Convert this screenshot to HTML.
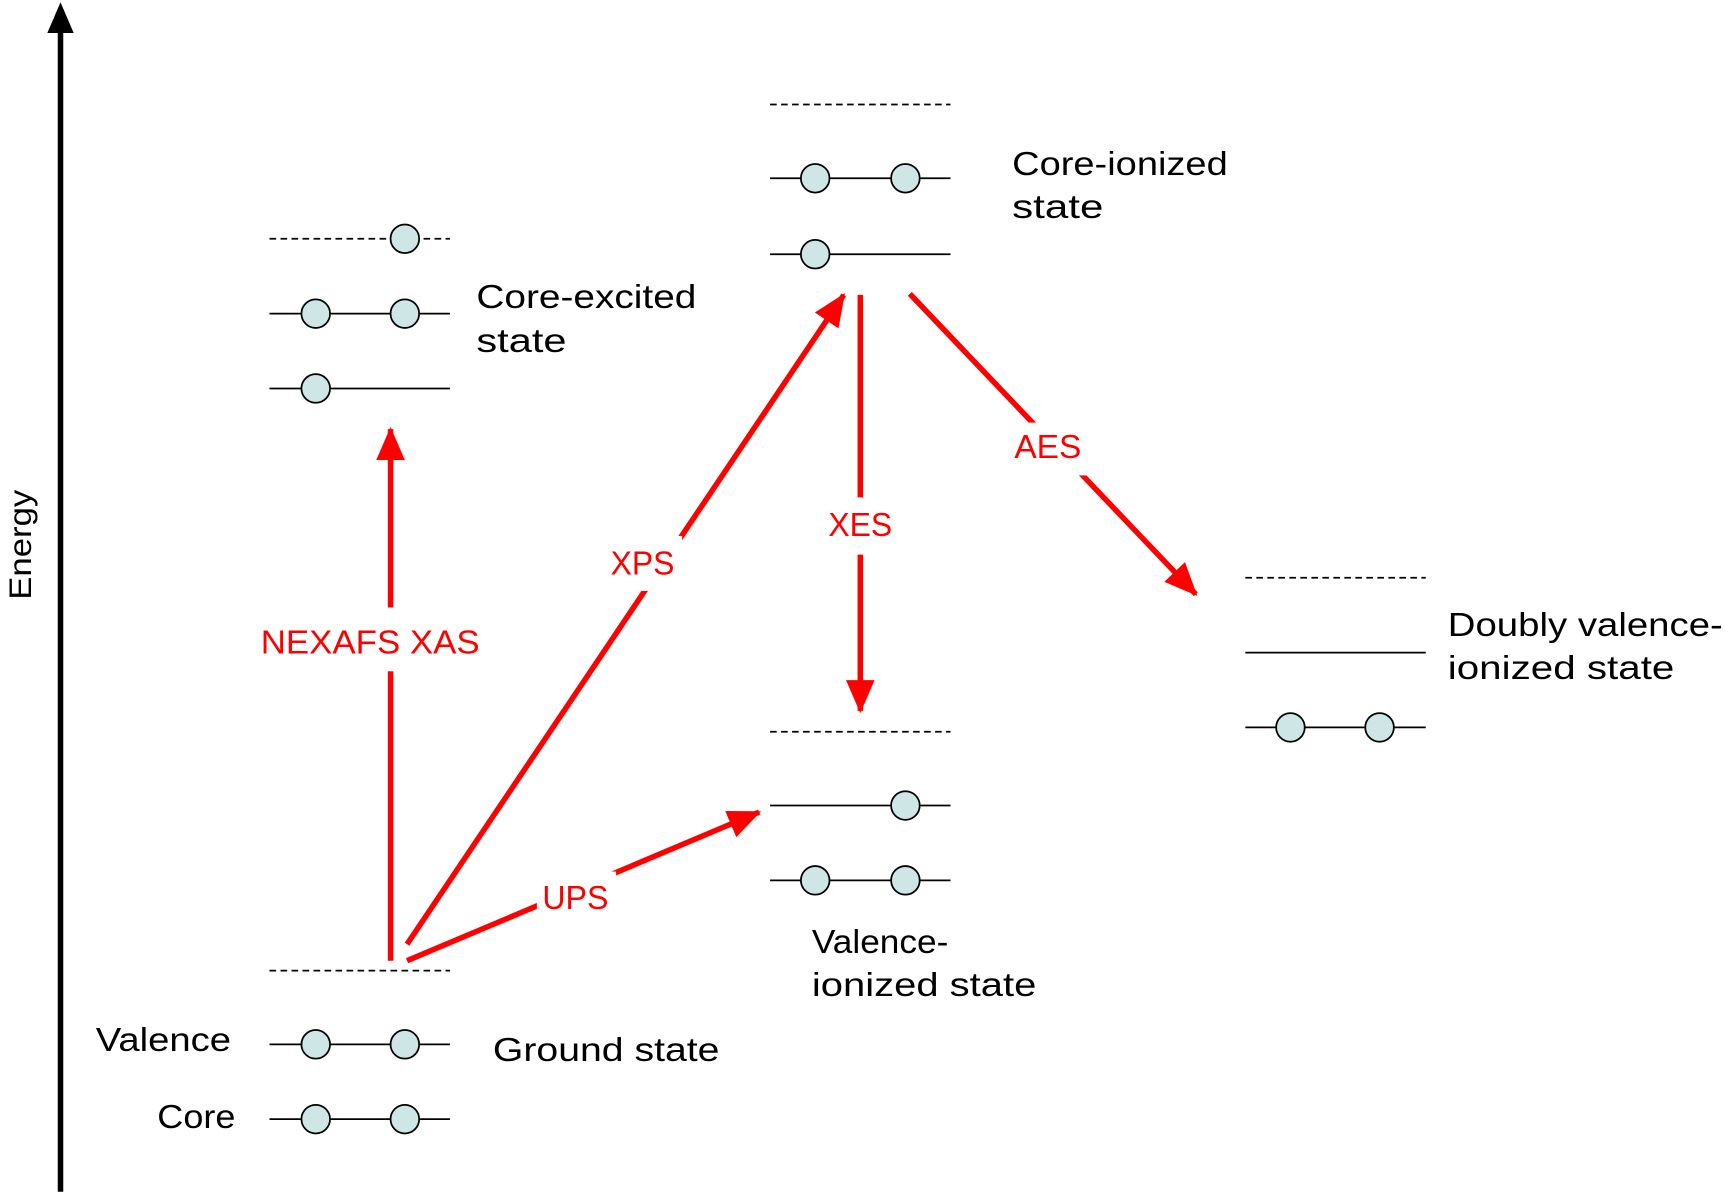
<!DOCTYPE html>
<html><head><meta charset="utf-8"><style>html,body{margin:0;padding:0;background:#fff}svg{display:block}</style></head>
<body>
<svg width="1725" height="1194" viewBox="0 0 1568 1085" preserveAspectRatio="none" xmlns="http://www.w3.org/2000/svg" font-family="Liberation Sans, sans-serif">
<defs>
<marker id="ar" markerUnits="userSpaceOnUse" markerWidth="30" markerHeight="26" refX="28" refY="13" orient="auto"><path d="M0,0 L30,13 L0,26 Z" fill="#ff0000"/></marker>
</defs>
<line x1="55" y1="1083" x2="55" y2="25" stroke="#000" stroke-width="5"/>
<path d="M43,30 L55,2 L67,30 Z" fill="#000"/>
<text transform="translate(28,545) rotate(-90)" font-size="29" textLength="100" lengthAdjust="spacingAndGlyphs">Energy</text>
<g stroke="#000" stroke-width="1.6" fill="none">
<line x1="245" y1="882" x2="409" y2="882" stroke-dasharray="6,4"/>
<line x1="245" y1="949" x2="409" y2="949"/>
<line x1="245" y1="1017" x2="409" y2="1017"/>
<line x1="245" y1="217" x2="409" y2="217" stroke-dasharray="6,4"/>
<line x1="245" y1="285" x2="409" y2="285"/>
<line x1="245" y1="353" x2="409" y2="353"/>
<line x1="700" y1="95" x2="864" y2="95" stroke-dasharray="6,4"/>
<line x1="700" y1="162" x2="864" y2="162"/>
<line x1="700" y1="231" x2="864" y2="231"/>
<line x1="700" y1="665" x2="864" y2="665" stroke-dasharray="6,4"/>
<line x1="700" y1="732" x2="864" y2="732"/>
<line x1="700" y1="800" x2="864" y2="800"/>
<line x1="1132" y1="525" x2="1296" y2="525" stroke-dasharray="6,4"/>
<line x1="1132" y1="593" x2="1296" y2="593"/>
<line x1="1132" y1="661" x2="1296" y2="661"/>
</g>
<g fill="#cfe6e6" stroke="#000" stroke-width="1.6">
<circle cx="287" cy="949" r="13"/><circle cx="368" cy="949" r="13"/>
<circle cx="287" cy="1017" r="13"/><circle cx="368" cy="1017" r="13"/>
<circle cx="368" cy="217" r="13"/>
<circle cx="287" cy="285" r="13"/><circle cx="368" cy="285" r="13"/>
<circle cx="287" cy="353" r="13"/>
<circle cx="741" cy="162" r="13"/><circle cx="823" cy="162" r="13"/>
<circle cx="741" cy="231" r="13"/>
<circle cx="823" cy="732" r="13"/>
<circle cx="741" cy="800" r="13"/><circle cx="823" cy="800" r="13"/>
<circle cx="1173" cy="661" r="13"/><circle cx="1254" cy="661" r="13"/>
</g>
<g stroke="#ff0000" stroke-width="5" fill="none">
<line x1="355" y1="873" x2="355" y2="390" marker-end="url(#ar)"/>
<line x1="370" y1="858" x2="767" y2="268" marker-end="url(#ar)"/>
<line x1="370" y1="873" x2="690" y2="738" marker-end="url(#ar)"/>
<line x1="782" y1="268" x2="782" y2="646" marker-end="url(#ar)"/>
<line x1="827" y1="267" x2="1087" y2="540" marker-end="url(#ar)"/>
</g>
<g fill="#fff">
<rect x="232" y="552" width="212" height="58"/>
<rect x="550" y="487" width="70" height="50"/>
<rect x="488" y="792" width="72" height="48"/>
<rect x="748" y="452" width="68" height="52"/>
<rect x="916" y="384" width="72" height="48"/>
</g>
<g fill="#ff0000" font-size="30" lengthAdjust="spacingAndGlyphs">
<text x="237" y="594" textLength="199" lengthAdjust="spacingAndGlyphs">NEXAFS XAS</text>
<text x="555" y="522" textLength="58" lengthAdjust="spacingAndGlyphs">XPS</text>
<text x="493" y="826" textLength="60" lengthAdjust="spacingAndGlyphs">UPS</text>
<text x="753" y="487" textLength="58" lengthAdjust="spacingAndGlyphs">XES</text>
<text x="922" y="416" textLength="61" lengthAdjust="spacingAndGlyphs">AES</text>
</g>
<g fill="#000" font-size="30">
<text x="433" y="280" textLength="200" lengthAdjust="spacingAndGlyphs">Core-excited</text>
<text x="433" y="320" textLength="82" lengthAdjust="spacingAndGlyphs">state</text>
<text x="920" y="159" textLength="196" lengthAdjust="spacingAndGlyphs">Core-ionized</text>
<text x="920" y="198" textLength="83" lengthAdjust="spacingAndGlyphs">state</text>
<text x="738" y="866" textLength="124" lengthAdjust="spacingAndGlyphs">Valence-</text>
<text x="738" y="905" textLength="204" lengthAdjust="spacingAndGlyphs">ionized state</text>
<text x="1316" y="578" textLength="250" lengthAdjust="spacingAndGlyphs">Doubly valence-</text>
<text x="1316" y="617" textLength="206" lengthAdjust="spacingAndGlyphs">ionized state</text>
<text x="448" y="964" textLength="206" lengthAdjust="spacingAndGlyphs">Ground state</text>
<text x="87" y="955" textLength="123" lengthAdjust="spacingAndGlyphs">Valence</text>
<text x="143" y="1025" textLength="71" lengthAdjust="spacingAndGlyphs">Core</text>
</g>
</svg>
</body></html>
